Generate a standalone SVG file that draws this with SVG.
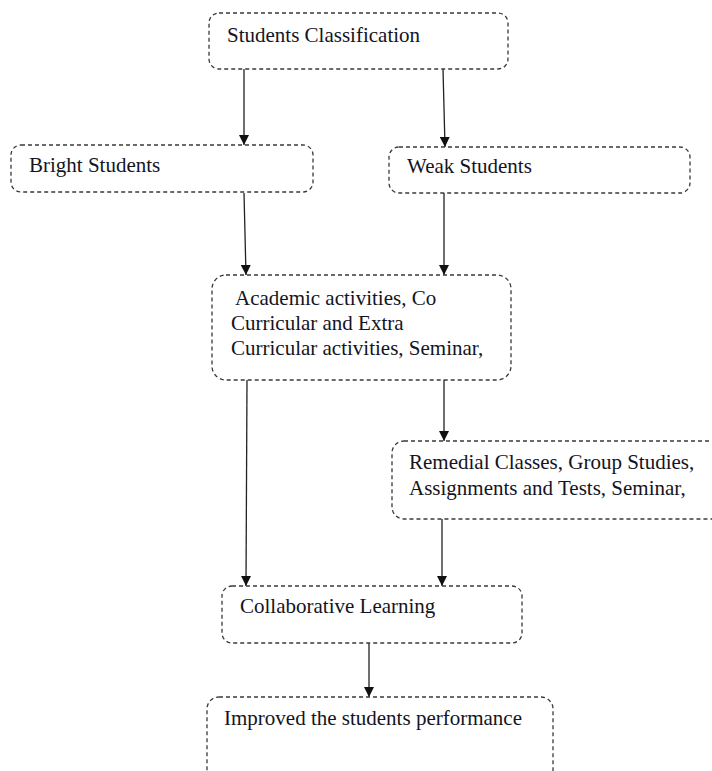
<svg xmlns="http://www.w3.org/2000/svg" width="712" height="771" viewBox="0 0 712 771">
  <style>
    .box { fill: #ffffff; stroke: #3a3a3a; stroke-width: 1.3; stroke-dasharray: 4 3; }
    .lbl { font-family: "Liberation Serif", "Times New Roman", serif; font-size: 21px; fill: #14141e; }
    .wire { stroke: #222; stroke-width: 1.3; fill: none; marker-end: url(#arrow); }
  </style>
  <defs>
    <marker id="arrow" viewBox="0 0 10 10" refX="10" refY="5" markerWidth="10" markerHeight="10" markerUnits="userSpaceOnUse" orient="auto">
      <path d="M0,0 L10,5 L0,10 z" fill="#111"/>
    </marker>
  </defs>
  <rect width="712" height="771" fill="#ffffff"/>

  <g id="connectors">
    <line class="wire" x1="244" y1="69" x2="244" y2="145"/>
    <line class="wire" x1="443" y1="69" x2="445" y2="147"/>
    <line class="wire" x1="244" y1="193" x2="246" y2="275"/>
    <line class="wire" x1="444" y1="193" x2="444" y2="275"/>
    <line class="wire" x1="444" y1="380" x2="444" y2="441"/>
    <line class="wire" x1="247" y1="380" x2="246" y2="586"/>
    <line class="wire" x1="442" y1="519" x2="442" y2="586"/>
    <line class="wire" x1="369" y1="643" x2="369" y2="697"/>
  </g>

  <g id="students-classification">
    <rect class="box" x="209" y="13" width="299" height="56" rx="10"/>
    <text class="lbl" x="227" y="42">Students Classification</text>
  </g>

  <g id="bright-students">
    <rect class="box" x="11" y="145" width="302" height="47" rx="10"/>
    <text class="lbl" x="29" y="172">Bright Students</text>
  </g>

  <g id="weak-students">
    <rect class="box" x="389" y="147" width="301" height="46" rx="10"/>
    <text class="lbl" x="407" y="173">Weak Students</text>
  </g>

  <g id="activities">
    <rect class="box" x="212" y="275" width="299" height="105" rx="14"/>
    <text class="lbl" x="235" y="305">Academic activities, Co</text>
    <text class="lbl" x="231" y="330">Curricular and Extra</text>
    <text class="lbl" x="231" y="355">Curricular activities, Seminar,</text>
  </g>

  <g id="remedial">
    <rect class="box" x="392" y="441" width="340" height="78" rx="12"/>
    <text class="lbl" x="409" y="469">Remedial Classes, Group Studies,</text>
    <text class="lbl" x="409" y="495">Assignments and Tests, Seminar,</text>
  </g>

  <g id="collaborative">
    <rect class="box" x="222" y="586" width="300" height="57" rx="10"/>
    <text class="lbl" x="240" y="613">Collaborative Learning</text>
  </g>

  <g id="improved">
    <rect class="box" x="207" y="697" width="346" height="100" rx="12"/>
    <text class="lbl" x="224" y="725">Improved the students performance</text>
  </g>
</svg>
